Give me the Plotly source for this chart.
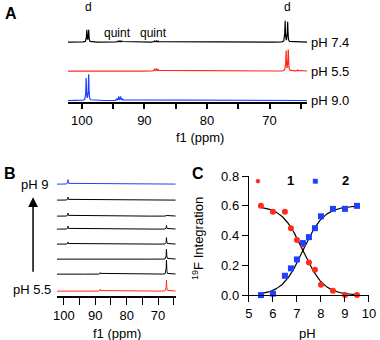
import numpy as np
import plotly.graph_objects as go

FONT = "Arial, Liberation Sans, sans-serif"
RED = "#ff2a1a"
BLUE = "#1f3fff"

# ---- panel A: 19F NMR spectra at three pH values (ppm, height)
ppm = np.arange(64.0, 102.4, 0.02)
a_labels = ["pH 7.4", "pH 5.5", "pH 9.0"]
a_colors = ["black", RED, BLUE]
a_offsets = [60, 31, 1.5]
a_peaks = [
    [(99.2, 12), (98.9, 12), (94.2, 1.2), (93.9, 1.5), (93.6, 1.2),
     (88.4, 1.2), (88.1, 1.5), (87.8, 1.2), (67.5, 21), (67.1, 20)],
    [(88.4, 2), (88.1, 2.5), (87.8, 2), (67.35, 21), (67.0, 21), (65.5, 1)],
    [(99.3, 22), (98.9, 26), (94.4, 2), (94.1, 4), (93.8, 4), (93.5, 2)],
]
a_notes = ["d", "quint", "quint", "d"]
a_note_ppm = [99.0, 94.3, 88.6, 67.2]
a_note_y = [95, 69, 69, 95]

# ---- panel B: titration series from pH 5.5 (bottom) to pH 9 (top)
b_offsets = [5, 22, 37, 52, 67, 80, 96, 112]
b_colors = [RED, "black", "black", "black", "black", "black", "black", BLUE]
b_peaks = [
    [(88.4, 2), (67.3, 11)],
    [(88.4, 1.5), (67.3, 14)],
    [(67.3, 10)],
    [(98.7, 2), (67.3, 6.5)],
    [(98.7, 3), (67.3, 3.5)],
    [(98.7, 3), (67.3, 1)],
    [(98.7, 3)],
    [(98.7, 4.5)],
]

# ---- panel C: 19F integration vs pH
ph = [5.5, 6.0, 6.5, 6.75, 7.0, 7.25, 7.5, 7.75, 8.0, 8.5, 9.0, 9.5]
int_1 = [0.60, 0.56, 0.56, 0.45, 0.37, 0.34, 0.22, 0.17, 0.07, 0.03, 0.0, 0.0]
int_2 = [0.0, 0.01, 0.13, 0.18, 0.24, 0.35, 0.39, 0.45, 0.53, 0.58, 0.58, 0.60]
series_names = ["1", "2"]
fit_pka = 7.25
fit_amp = 0.6


def spectrum(peaks, width=0.05):
    y = np.zeros_like(ppm)
    for x0, h in peaks:
        y += h / (1 + ((ppm - x0) / width) ** 2)
    return y


def note(text, x, y, size=13, xanchor="center", **kw):
    # x, y in pixels from the top-left corner of the figure
    fig.add_annotation(text=text, x=x / 380, y=1 - y / 340, xref="paper", yref="paper",
                       xanchor=xanchor, yanchor="middle", showarrow=False,
                       font=dict(size=size, family=FONT, color="black"), **kw)


fig = go.Figure()

for lab, col, off, pk in zip(a_labels, a_colors, a_offsets, a_peaks):
    fig.add_trace(go.Scatter(x=ppm, y=spectrum(pk) + off, mode="lines",
                             line=dict(color=col, width=1.2), showlegend=False,
                             xaxis="x", yaxis="y"))
    fig.add_annotation(text=lab, x=0.812, xref="paper", xanchor="left",
                       y=off, yref="y", yanchor="middle", showarrow=False,
                       font=dict(size=13, color="black", family=FONT))

for t, xp, yp in zip(a_notes, a_note_ppm, a_note_y):
    fig.add_annotation(text=t, x=xp, y=yp, xref="x", yref="y", showarrow=False,
                       font=dict(size=12, color="black", family=FONT))

for col, off, pk in zip(b_colors, b_offsets, b_peaks):
    fig.add_trace(go.Scatter(x=ppm, y=spectrum(pk, 0.08) + off, mode="lines",
                             line=dict(color=col, width=1), showlegend=False,
                             xaxis="x2", yaxis="y2"))

# fitted curves
ph_fit = np.linspace(5.5, 9.5, 200)
fig.add_trace(go.Scatter(x=ph_fit, y=fit_amp / (1 + 10 ** (ph_fit - fit_pka)),
                         mode="lines", line=dict(color="black", width=1.2),
                         showlegend=False, xaxis="x3", yaxis="y3", cliponaxis=False))
fig.add_trace(go.Scatter(x=ph_fit, y=fit_amp / (1 + 10 ** (fit_pka - ph_fit)),
                         mode="lines", line=dict(color="black", width=1.2),
                         showlegend=False, xaxis="x3", yaxis="y3", cliponaxis=False))
fig.add_trace(go.Scatter(x=ph, y=int_1, mode="markers", name=series_names[0],
                         marker=dict(color=RED, size=6, symbol="circle"), showlegend=False,
                         xaxis="x3", yaxis="y3", cliponaxis=False))
fig.add_trace(go.Scatter(x=ph, y=int_2, mode="markers", name=series_names[1],
                         marker=dict(color=BLUE, size=6, symbol="square"), showlegend=False,
                         xaxis="x3", yaxis="y3", cliponaxis=False))

tickfont = dict(size=13, color="black", family=FONT)
ax_common = dict(showgrid=False, zeroline=False, showline=True, linecolor="black",
                 ticks="outside", tickcolor="black", tickfont=tickfont,
                 automargin=False)

fig.update_layout(
    width=380, height=340,
    margin=dict(l=0, r=0, t=0, b=0),
    paper_bgcolor="white", plot_bgcolor="white",
    font=dict(family=FONT, color="black"),
    showlegend=False,
    xaxis=dict(ax_common, domain=[0.179, 0.808], range=[102.2, 64.0],
               anchor="y", linewidth=2, ticklen=5, tickwidth=1.5,
               tickvals=[100, 95, 90, 85, 80, 75, 70, 65],
               ticktext=["100", "", "90", "", "80", "", "70", ""]),
    yaxis=dict(domain=[0.70, 0.985], range=[0, 97], visible=False, anchor="x"),
    xaxis2=dict(ax_common, domain=[0.150, 0.462], range=[102.2, 64.4],
                anchor="y2", linewidth=1.5, ticklen=7, tickwidth=1.2,
                tickvals=[100, 95, 90, 85, 80, 75, 70, 65],
                ticktext=["100", "", "90", "", "80", "", "70", ""]),
    yaxis2=dict(domain=[0.129, 0.485], range=[0, 121], visible=False, anchor="x2"),
    xaxis3=dict(ax_common, domain=[0.655, 0.971], range=[5, 10], anchor="y3",
                linewidth=1.3, ticklen=6, tickwidth=1.2, dtick=1),
    yaxis3=dict(ax_common, domain=[0.132, 0.482], range=[0, 0.8], anchor="x3",
                linewidth=1.3, ticklen=6, tickwidth=1.2, dtick=0.2, tickformat=".1f"),
)

# axis titles
note("f1 (ppm)", 200, 137)
note("f1 (ppm)", 117, 333)
note("pH", 307, 333)
note("<sup>19</sup>F Integration", 198, 238, textangle=-90)

# legend of panel C, drawn as text
note("<span style='color:%s'>●</span>" % RED, 258, 180, size=10)
note("<b>%s</b>" % series_names[0], 290, 180)
note("<span style='color:%s'>■</span>" % BLUE, 315, 180, size=10)
note("<b>%s</b>" % series_names[1], 345, 180)

# panel letters
note("<b>A</b>", 11, 14, size=16)
note("<b>B</b>", 10, 173, size=16)
note("<b>C</b>", 198, 173, size=16)

# pH labels and arrow in panel B
note("pH 9", 50, 184, xanchor="right")
note("pH 5.5", 53, 289, xanchor="right")
fig.add_annotation(x=0.087, y=0.42, ax=0, ay=76, xref="paper", yref="paper",
                   showarrow=True, arrowhead=2, arrowsize=1.3, arrowwidth=1.5,
                   arrowcolor="black", text="")

fig.write_html("out.html", config={"displayModeBar": False},
               post_script="document.body.style.margin='0';")
